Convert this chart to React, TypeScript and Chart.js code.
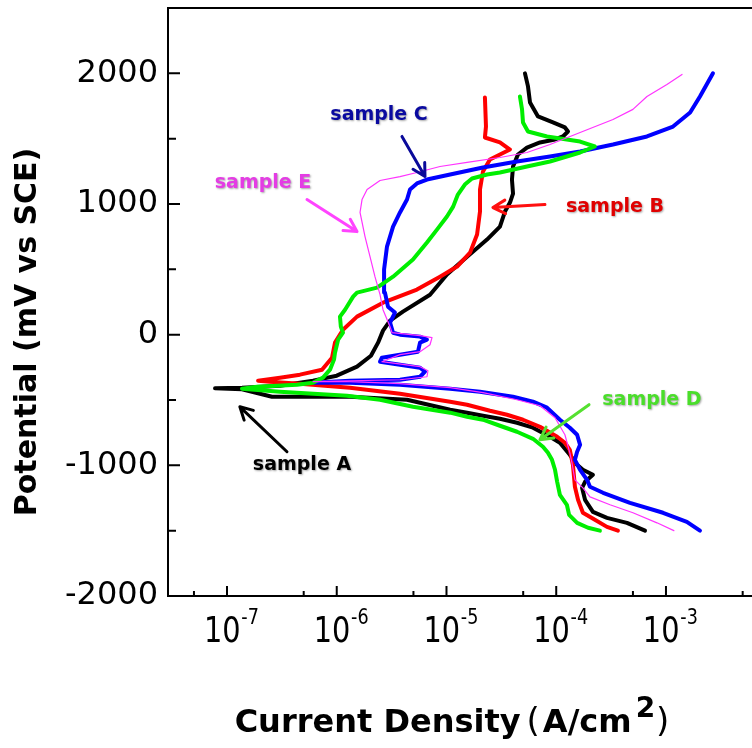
import React, { useEffect, useRef } from "react";
import { Chart, registerables } from "chart.js";

Chart.register(...registerables);

// ---------- axis ticks ----------
const yMajorTicks = [-2000, -1000, 0, 1000, 2000];
const yMinorTicks = [-1500, -500, 500, 1500];
const xMajorTicks = [1e-7, 1e-6, 1e-5, 1e-4, 1e-3];
const xMajorExponents = ["-7", "-6", "-5", "-4", "-3"];
const xMinorTicks = [5e-8, 5e-7, 5e-6, 5e-5, 5e-4, 5e-3];

// ---------- sample A (black) ----------
const currentA = [
  6.44e-4, 4.41e-4, 2.9e-4, 2.16e-4, 1.83e-4, 1.72e-4, 1.83e-4, 2.16e-4, 1.75e-4, 1.55e-4,
  1.33e-4, 1.08e-4, 8.77e-5, 6.14e-5, 4.39e-5, 3.07e-5, 2.15e-5, 1.54e-5, 1.08e-5, 4.37e-6,
  1.32e-6, 2.57e-7, 1.37e-7, 7.78e-8, 1.37e-7, 3.04e-7, 6.08e-7, 1.0e-6, 1.53e-6, 2.05e-6,
  2.38e-6, 2.64e-6, 3.06e-6, 4.01e-6, 7.08e-6, 1.01e-5, 1.54e-5, 2.34e-5, 3.07e-5, 3.41e-5,
  3.79e-5, 4.04e-5, 3.95e-5, 4.04e-5, 4.48e-5, 5.41e-5, 7.11e-5, 9.75e-5, 1.15e-4, 1.28e-4,
  1.2e-4, 9.34e-5, 6.82e-5, 5.77e-5, 5.53e-5, 5.19e-5,
];
const potentialA = [
  -1500, -1440, -1402, -1356, -1264, -1172, -1126, -1072, -1034, -996,
  -919, -827, -781, -712, -674, -643, -620, -597, -575, -498,
  -475, -475, -418, -410, -406, -391, -352, -314, -245, -161,
  -61, 31, 107, 176, 306, 460, 597, 728, 827, 942,
  1011, 1080, 1187, 1287, 1379, 1432, 1471, 1494, 1517, 1555,
  1586, 1624, 1670, 1777, 1900, 2000,
];

// ---------- sample B (red) ----------
const currentB = [
  3.65e-4, 2.9e-4, 2.25e-4, 1.75e-4, 1.58e-4, 1.48e-4, 1.42e-4, 1.33e-4, 1.2e-4, 1.02e-4,
  7.11e-5, 4.98e-5, 3.56e-5, 2.49e-5, 1.54e-5, 1.08e-5, 3.77e-6, 1.32e-6, 4.62e-7, 2.46e-7,
  1.92e-7, 3.04e-7, 4.62e-7, 7.34e-7, 9.06e-7, 9.64e-7, 1.14e-6, 1.53e-6, 2.64e-6, 5.38e-6,
  8.73e-6, 1.25e-5, 1.64e-5, 1.9e-5, 2.02e-5, 2.02e-5, 2.15e-5, 2.49e-5, 3.79e-5, 3.07e-5,
  2.24e-5, 2.29e-5, 2.24e-5,
];
const potentialB = [
  -1500, -1471, -1417, -1363, -1264, -1164, -996, -881, -827, -781,
  -705, -651, -613, -582, -536, -513, -452, -406, -375, -360,
  -352, -329, -306, -268, -176, -61, 38, 138, 245, 345,
  444, 521, 628, 766, 942, 1111, 1249, 1341, 1417, 1471,
  1509, 1593, 1815,
];

// ---------- sample C (blue) ----------
const currentC = [
  2.04e-3, 1.55e-3, 9.4e-4, 4.7e-4, 2.67e-4, 2.03e-4, 1.91e-4, 1.65e-4, 1.48e-4, 1.55e-4,
  1.65e-4, 1.55e-4, 1.33e-4, 1.08e-4, 8.24e-5, 6.14e-5, 4.04e-5, 2.02e-5, 1.08e-5, 3.77e-6,
  1.32e-6, 6.08e-7, 1.32e-6, 3.77e-6, 5.74e-6, 6.37e-6, 5.74e-6, 2.48e-6, 2.58e-6, 3.77e-6,
  5.5e-6, 5.74e-6, 6.64e-6, 5.74e-6, 3.77e-6, 3.26e-6, 3.06e-6, 3.39e-6, 2.93e-6, 2.75e-6,
  2.7e-6, 2.87e-6, 3.26e-6, 3.77e-6, 4.37e-6, 4.65e-6, 5.38e-6, 6.64e-6, 1.08e-5, 2.15e-5,
  4.39e-5, 8.77e-5, 1.65e-4, 3.29e-4, 6.71e-4, 1.16e-3, 1.66e-3, 2.04e-3, 2.68e-3,
];
const potentialC = [
  -1500, -1432, -1363, -1287, -1210, -1164, -1111, -1034, -958, -896,
  -843, -766, -712, -651, -559, -513, -475, -437, -414, -383,
  -368, -368, -352, -345, -322, -283, -253, -207, -176, -153,
  -130, -61, -38, -15, 0, 15, 92, 169, 214, 322,
  498, 674, 827, 935, 1034, 1111, 1157, 1187, 1226, 1279,
  1325, 1363, 1402, 1455, 1517, 1593, 1700, 1823, 2000,
];

// ---------- sample D (green) ----------
const currentD = [
  2.5e-4, 1.95e-4, 1.55e-4, 1.31e-4, 1.25e-4, 1.08e-4, 1.02e-4, 9.75e-5, 9.15e-5, 8.41e-5,
  7.57e-5, 6.14e-5, 4.39e-5, 3.07e-5, 2.15e-5, 1.54e-5, 1.08e-5, 4.95e-6, 2.48e-6, 1.24e-6,
  3.04e-7, 1.37e-7, 1.88e-7, 4.34e-7, 6.08e-7, 7.5e-7, 8.68e-7, 9.44e-7, 9.64e-7, 1.03e-6,
  1.14e-6, 1.09e-6, 1.07e-6, 1.19e-6, 1.41e-6, 1.53e-6, 2.33e-6, 3.26e-6, 4.95e-6, 6.64e-6,
  8.19e-6, 1.01e-5, 1.15e-5, 1.27e-5, 1.47e-5, 1.71e-5, 2.34e-5, 3.07e-5, 5.41e-5, 8.77e-5,
  1.65e-4, 2.25e-4, 1.65e-4, 8.24e-5, 5.53e-5, 4.98e-5, 4.88e-5, 4.67e-5,
];
const potentialD = [
  -1500, -1478, -1440, -1379, -1302, -1226, -1126, -1034, -958, -904,
  -858, -797, -743, -697, -651, -628, -597, -552, -498, -467,
  -437, -414, -398, -383, -368, -329, -268, -191, -138, -38,
  15, 61, 138, 191, 291, 322, 360, 444, 575, 705,
  804, 904, 980, 1072, 1149, 1195, 1226, 1241, 1287, 1325,
  1394, 1440, 1478, 1517, 1555, 1624, 1724, 1823,
];

// ---------- sample E (magenta) ----------
const currentE = [
  1.18e-3, 8.28e-4, 5.0e-4, 3.09e-4, 2.03e-4, 1.75e-4, 1.48e-4, 1.39e-4, 1.33e-4, 1.2e-4,
  9.75e-5, 7.11e-5, 4.39e-5, 2.15e-5, 1.08e-5, 3.77e-6, 1.32e-6, 6.08e-7, 3.77e-6, 6.64e-6,
  6.78e-6, 5.74e-6, 2.58e-6, 3.77e-6, 5.74e-6, 7.08e-6, 7.38e-6, 5.74e-6, 3.19e-6, 3.06e-6,
  2.64e-6, 2.48e-6, 2.23e-6, 2.01e-6, 1.81e-6, 1.63e-6, 1.7e-6, 1.89e-6, 2.48e-6, 3.77e-6,
  5.38e-6, 8.73e-6, 1.54e-5, 3.07e-5, 5.41e-5, 8.77e-5, 1.65e-4, 3.29e-4, 5.0e-4, 6.71e-4,
  1.02e-3, 1.4e-3,
];
const potentialE = [
  -1500, -1440, -1363, -1302, -1241, -1172, -1111, -980, -904, -766,
  -636, -544, -498, -444, -406, -375, -360, -360, -345, -322,
  -276, -245, -207, -153, -130, -77, -23, -8, 15, 61,
  191, 306, 444, 597, 751, 935, 1034, 1111, 1180, 1210,
  1241, 1287, 1318, 1356, 1394, 1455, 1547, 1647, 1724, 1823,
  1915, 1992,
];

// ---------- annotations (data coordinates) ----------
const annotationLabels = ["sample A", "sample B", "sample C", "sample D", "sample E"];
const annotationTextAt = [
  [4.82e-7, -996],
  [3.43e-4, 980],
  [2.43e-6, 1678],
  [7.45e-4, -498],
  [2.13e-7, 1164],
];
const annotationArrowFrom = [
  [3.52e-7, -896],
  [7.89e-5, 996],
  [3.93e-6, 1517],
  [1.99e-4, -536],
  [5.36e-7, 1034],
];
const annotationArrowTo = [
  [1.31e-7, -552],
  [2.65e-5, 973],
  [6.37e-6, 1210],
  [7.11e-5, -804],
  [1.53e-6, 789],
];
const annotationTextColors = ["#000000", "#e00000", "#0a0aa0", "#4ade2a", "#e43ce4"];
const annotationArrowColors = ["#000000", "#ff1010", "#0a0a9a", "#55e030", "#ff44ff"];

const toPoints = (xs: number[], ys: number[]) => xs.map((v, i) => ({ x: v, y: ys[i] }));

const decorPlugin = {
  id: "decor",
  afterDatasetsDraw(chart: any) {
    const { ctx, scales } = chart;
    const xs = scales.x;
    const ys = scales.y;
    ctx.save();
    for (let i = 0; i < annotationLabels.length; i++) {
      const col = annotationArrowColors[i];
      const fx = xs.getPixelForValue(annotationArrowFrom[i][0]);
      const fy = ys.getPixelForValue(annotationArrowFrom[i][1]);
      const tx = xs.getPixelForValue(annotationArrowTo[i][0]);
      const ty = ys.getPixelForValue(annotationArrowTo[i][1]);
      ctx.strokeStyle = col;
      ctx.lineWidth = 3;
      ctx.lineCap = "round";
      ctx.lineJoin = "round";
      ctx.beginPath();
      ctx.moveTo(fx, fy);
      ctx.lineTo(tx, ty);
      const ang = Math.atan2(ty - fy, tx - fx);
      const hl = 14;
      ctx.moveTo(tx - hl * Math.cos(ang - 0.5), ty - hl * Math.sin(ang - 0.5));
      ctx.lineTo(tx, ty);
      ctx.lineTo(tx - hl * Math.cos(ang + 0.5), ty - hl * Math.sin(ang + 0.5));
      ctx.stroke();

      const px = xs.getPixelForValue(annotationTextAt[i][0]);
      const py = ys.getPixelForValue(annotationTextAt[i][1]);
      ctx.font = "bold 19px 'DejaVu Sans'";
      ctx.textAlign = "center";
      ctx.textBaseline = "middle";
      ctx.shadowColor = "rgba(0,0,0,0.35)";
      ctx.shadowBlur = 2;
      ctx.shadowOffsetX = 1;
      ctx.shadowOffsetY = 1;
      ctx.fillStyle = annotationTextColors[i];
      ctx.fillText(annotationLabels[i], px, py);
      ctx.shadowColor = "rgba(0,0,0,0)";
      ctx.shadowBlur = 0;
      ctx.shadowOffsetX = 0;
      ctx.shadowOffsetY = 0;
    }
    ctx.restore();
  },
  afterDraw(chart: any) {
    const { ctx, chartArea, scales } = chart;
    const xs = scales.x;
    const ys = scales.y;
    ctx.save();
    ctx.strokeStyle = "#000";
    ctx.fillStyle = "#000";
    ctx.lineWidth = 2;
    // top frame line
    ctx.beginPath();
    ctx.moveTo(chartArea.left - 1, chartArea.top);
    ctx.lineTo(chartArea.right, chartArea.top);
    ctx.stroke();
    // y ticks (inward)
    ctx.beginPath();
    yMajorTicks.forEach((v) => {
      const p = ys.getPixelForValue(v);
      ctx.moveTo(chartArea.left, p);
      ctx.lineTo(chartArea.left + 12, p);
    });
    yMinorTicks.forEach((v) => {
      const p = ys.getPixelForValue(v);
      ctx.moveTo(chartArea.left, p);
      ctx.lineTo(chartArea.left + 8, p);
    });
    // x ticks (inward)
    xMajorTicks.forEach((v) => {
      const p = xs.getPixelForValue(v);
      ctx.moveTo(p, chartArea.bottom);
      ctx.lineTo(p, chartArea.bottom - 10);
    });
    xMinorTicks.forEach((v) => {
      const p = xs.getPixelForValue(v);
      ctx.moveTo(p, chartArea.bottom);
      ctx.lineTo(p, chartArea.bottom - 5);
    });
    ctx.stroke();

    // x tick labels 10^n
    const sx = 0.8;
    const base = 642;
    xMajorTicks.forEach((v, i) => {
      const p = xs.getPixelForValue(v);
      ctx.font = "36px 'DejaVu Sans'";
      const w1 = ctx.measureText("10").width;
      ctx.font = "22px 'DejaVu Sans'";
      const w2 = ctx.measureText(xMajorExponents[i]).width;
      const total = (w1 + w2) * sx;
      ctx.save();
      ctx.translate(p - total / 2 + 4, base);
      ctx.scale(sx, 1);
      ctx.textAlign = "left";
      ctx.textBaseline = "alphabetic";
      ctx.font = "36px 'DejaVu Sans'";
      ctx.fillText("10", 0, 0);
      ctx.font = "22px 'DejaVu Sans'";
      ctx.fillText(xMajorExponents[i], w1 + 1, -18);
      ctx.restore();
    });

    // y axis title
    ctx.save();
    ctx.translate(28, 332);
    ctx.rotate(-Math.PI / 2);
    ctx.textAlign = "center";
    ctx.textBaseline = "middle";
    ctx.font = "bold 30px 'DejaVu Sans'";
    ctx.fillText("Potential (mV vs SCE)", 0, 0);
    ctx.restore();

    // x axis title
    const parts = [
      { t: "Current Density", f: "bold 32px 'DejaVu Sans'", dy: 0, gap: 6 },
      { t: "(", f: "34px 'DejaVu Sans'", dy: 0, gap: 3 },
      { t: "A/cm", f: "bold 32px 'DejaVu Sans'", dy: 0, gap: 4 },
      { t: "2", f: "bold 28px 'DejaVu Sans'", dy: -15, gap: 1 },
      { t: ")", f: "34px 'DejaVu Sans'", dy: 0, gap: 0 },
    ];
    let total = 0;
    const widths = parts.map((pt) => {
      ctx.font = pt.f;
      const w = ctx.measureText(pt.t).width;
      total += w + pt.gap;
      return w;
    });
    let cx = 452 - total / 2;
    ctx.textAlign = "left";
    ctx.textBaseline = "alphabetic";
    parts.forEach((pt, i) => {
      ctx.font = pt.f;
      ctx.fillText(pt.t, cx, 732 + pt.dy);
      cx += widths[i] + pt.gap;
    });
    ctx.restore();
  },
};

export default function App() {
  const ref = useRef<HTMLCanvasElement | null>(null);
  useEffect(() => {
    if (!ref.current) return;
    const lineDs = (label: string, xs: number[], ys: number[], color: string, width: number, order: number) => ({
      label,
      data: toPoints(xs, ys),
      showLine: true,
      borderColor: color,
      backgroundColor: color,
      borderWidth: width,
      pointRadius: 0,
      pointHoverRadius: 0,
      tension: 0,
      borderJoinStyle: "round" as const,
      borderCapStyle: "round" as const,
      order,
    });
    const chart = new Chart(ref.current, {
      type: "scatter",
      data: {
        datasets: [
          lineDs("sample A", currentA, potentialA, "#000000", 4, 5),
          lineDs("sample B", currentB, potentialB, "#ff0000", 4, 4),
          lineDs("sample C", currentC, potentialC, "#0000ff", 4, 3),
          lineDs("sample D", currentD, potentialD, "#00ee00", 4, 2),
          lineDs("sample E", currentE, potentialE, "#ff33ff", 1.2, 1),
        ],
      },
      options: {
        responsive: false,
        animation: false,
        devicePixelRatio: 1,
        layout: { padding: { top: 8, right: 0, bottom: 0, left: 0 } },
        plugins: { legend: { display: false }, tooltip: { enabled: false } },
        events: [],
        scales: {
          x: {
            type: "logarithmic",
            min: 2.9e-8,
            max: 6.08e-3,
            grid: { display: false },
            border: { display: true, color: "#000", width: 2 },
            ticks: { display: false },
            afterBuildTicks: (scale: any) => {
              scale.ticks = xMajorTicks.map((v) => ({ value: v }));
            },
            afterFit: (scale: any) => {
              scale.height = 152;
              scale.paddingLeft = 0;
              scale.paddingRight = 0;
            },
          },
          y: {
            type: "linear",
            min: -2000,
            max: 2500,
            grid: { display: false },
            border: { display: true, color: "#000", width: 2 },
            ticks: {
              color: "#000",
              padding: 2,
              font: { family: "'DejaVu Sans'", size: 32 },
              callback: (v: any) => String(v),
            },
            afterBuildTicks: (scale: any) => {
              scale.ticks = yMajorTicks.map((v) => ({ value: v }));
            },
            afterFit: (scale: any) => {
              scale.width = 168;
              scale.paddingTop = 0;
              scale.paddingBottom = 0;
            },
          },
        },
      },
      plugins: [decorPlugin],
    });
    return () => chart.destroy();
  }, []);
  return (
    <div style={{ position: "fixed", left: 0, top: 0, width: 752, height: 748, background: "#fff" }}>
      <canvas ref={ref} width={752} height={748} style={{ display: "block", width: 752, height: 748 }} />
    </div>
  );
}
